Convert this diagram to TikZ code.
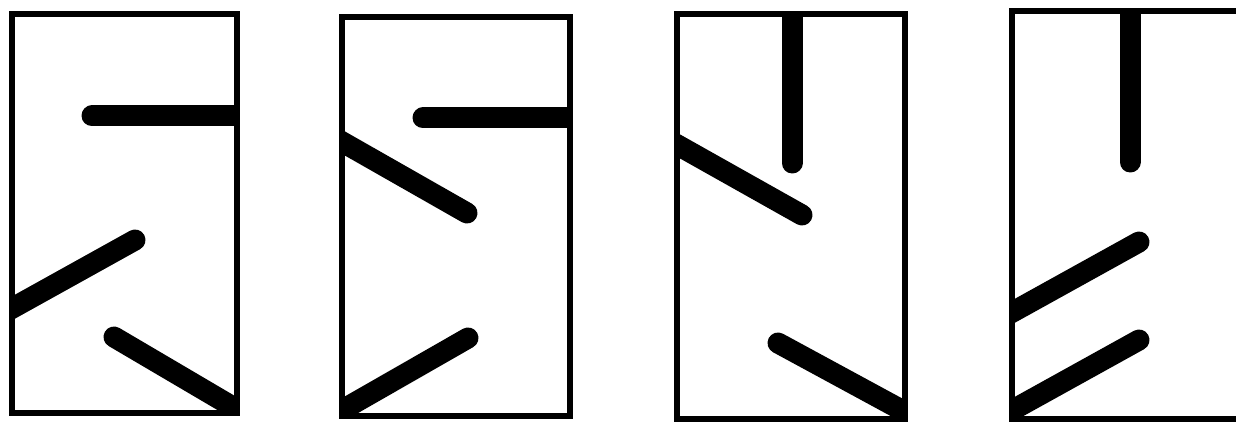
\documentclass[tikz,border=0pt]{standalone}
\begin{document}
\begin{tikzpicture}[x=1pt, y=-1pt,
    frame/.style={line width=6pt},
    baffle/.style={line width=21pt, line cap=round}]
  \useasboundingbox (0,0) rectangle (1236,422);
  \clip (0,0) rectangle (1236,422);
  % panel 1
  \begin{scope}
    \clip (12,14) rectangle (237,413);
    \draw[baffle] (92,116) -- (250,116);
    \draw[baffle] (135,240) -- (0,315);
    \draw[baffle] (114,337) -- (250,417);
  \end{scope}
  \draw[frame] (12,14) rectangle (237,413);
  % panel 2
  \begin{scope}
    \clip (342,17) rectangle (570,416);
    \draw[baffle] (423,118) -- (580,118);
    \draw[baffle] (467,213) -- (330,135);
    \draw[baffle] (468,338) -- (330,417);
  \end{scope}
  \draw[frame] (342,17) rectangle (570,416);
  % panel 3
  \begin{scope}
    \clip (677,14) rectangle (905,419);
    \draw[baffle] (792,163) -- (792,0);
    \draw[baffle] (802,215) -- (665,138);
    \draw[baffle] (778,343) -- (920,420);
  \end{scope}
  \draw[frame] (677,14) rectangle (905,419);
  % panel 4 (runs off the right edge)
  \begin{scope}
    \clip (1012,11) rectangle (1242,419);
    \draw[baffle] (1130,162) -- (1130,0);
    \draw[baffle] (1139,242) -- (1000,319);
    \draw[baffle] (1139,340) -- (1000,417);
  \end{scope}
  \draw[frame] (1012,11) rectangle (1242,419);
\end{tikzpicture}
\end{document}
